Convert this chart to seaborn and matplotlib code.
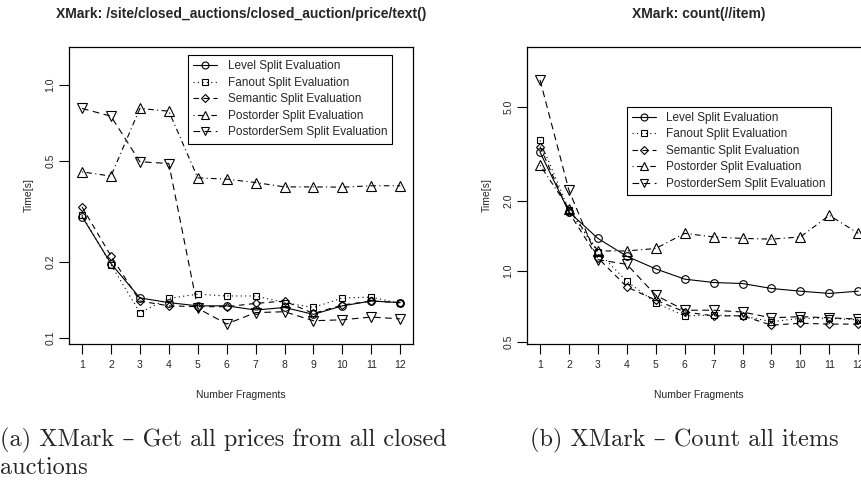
import numpy as np
import pandas as pd
import matplotlib
matplotlib.use("Agg")
import matplotlib.pyplot as plt
from matplotlib.lines import Line2D
import seaborn as sns

# ---------------- data ----------------
fragments = [1, 2, 3, 4, 5, 6, 7, 8, 9, 10, 11, 12]
series_names = ["Level Split Evaluation", "Fanout Split Evaluation",
                "Semantic Split Evaluation", "Postorder Split Evaluation",
                "PostorderSem Split Evaluation"]

# (a) /site/closed_auctions/closed_auction/price/text()
a_level = [0.302, 0.197, 0.144, 0.138, 0.134, 0.134, 0.129, 0.132, 0.124, 0.134, 0.140, 0.138]
a_fanout = [0.306, 0.195, 0.126, 0.1435, 0.149, 0.1466, 0.1466, 0.138, 0.132, 0.144, 0.145, 0.137]
a_semantic = [0.330, 0.211, 0.140, 0.134, 0.133, 0.133, 0.137, 0.140, 0.125, 0.135, 0.140, 0.138]
a_postorder = [0.454, 0.437, 0.809, 0.789, 0.430, 0.425, 0.412, 0.396, 0.396, 0.395, 0.400, 0.400]
a_postordersem = [0.809, 0.754, 0.498, 0.490, 0.131, 0.1136, 0.126, 0.127, 0.117, 0.118, 0.121, 0.119]

# (b) count(//item)
b_level = [3.22, 1.79, 1.38, 1.158, 1.023, 0.925, 0.895, 0.886, 0.844, 0.822, 0.804, 0.822]
b_fanout = [3.61, 1.82, 1.21, 0.906, 0.733, 0.645, 0.650, 0.645, 0.609, 0.630, 0.630, 0.620]
b_semantic = [3.40, 1.78, 1.14, 0.857, 0.753, 0.671, 0.645, 0.645, 0.589, 0.600, 0.595, 0.595]
b_postorder = [2.83, 1.85, 1.22, 1.22, 1.25, 1.45, 1.40, 1.38, 1.37, 1.40, 1.73, 1.45]
b_postordersem = [6.54, 2.21, 1.12, 1.07, 0.790, 0.682, 0.682, 0.670, 0.633, 0.640, 0.633, 0.625]

title_a = "XMark: /site/closed_auctions/closed_auction/price/text()"
title_b = "XMark: count(//item)"
yticks_a = [0.1, 0.2, 0.5, 1.0]
yticks_b = [0.5, 1.0, 2.0, 5.0]
caption_a1 = "(a) XMark \u2013 Get all prices from all closed"
caption_a2 = "auctions"
caption_b = "(b) XMark \u2013 Count all items"

# ---------------- style ----------------
sns.set_theme(style="white")
plt.rcParams["font.family"] = ["Liberation Sans", "DejaVu Sans"]

W, H = 861, 480
fig = plt.figure(figsize=(W / 100, H / 100), dpi=100)

def fx(px):
    return px / W

def fy(py):
    return 1 - py / H

ax_w = 343.7 / W
ax_h = (344.3 - 46.7) / H
ax1 = fig.add_axes([fx(69.3), fy(344.3), ax_w, ax_h])
ax2 = fig.add_axes([fx(527.3), fy(344.3), ax_w, ax_h])

lw = 0.8
styles = [
    dict(linestyle="-", marker="o", ms=5.5),
    dict(linestyle=(0, (1, 3)), marker="s", ms=5.0),
    dict(linestyle=(0, (5, 4)), marker="D", ms=4.5),
    dict(linestyle=(0, (1, 3, 5, 3)), marker="^", ms=6.5),
    dict(linestyle=(0, (6, 4)), marker="v", ms=6.5),
]

def draw(ax, values, ylim, yticks, title):
    for name, vals, st in zip(series_names, values, styles):
        df = pd.DataFrame({"x": fragments, "y": vals})
        sns.lineplot(data=df, x="x", y="y", ax=ax, color="black", lw=lw,
                     linestyle=st["linestyle"], marker=st["marker"],
                     markersize=st["ms"], markerfacecolor="none",
                     markeredgecolor="black", markeredgewidth=0.8,
                     legend=False, errorbar=None)
    ax.set_yscale("log")
    ax.set_xlim(0.56, 12.44)
    ax.set_ylim(*ylim)
    ax.set_xticks(fragments)
    ax.set_xticklabels([str(f) for f in fragments], fontsize=7.5)
    ax.set_yticks(yticks)
    ax.set_yticklabels([f"{t:.1f}" for t in yticks], fontsize=7.5,
                       rotation=90, va="center")
    ax.minorticks_off()
    ax.tick_params(axis="both", which="major", direction="out", length=7,
                   width=0.8, color="black", left=True, bottom=True, pad=4)
    ax.tick_params(axis="y", pad=3)
    for s in ax.spines.values():
        s.set_visible(True)
        s.set_color("black")
        s.set_linewidth(0.9)
    ax.set_xlabel("Number Fragments", fontsize=7.5, labelpad=15)
    ax.set_ylabel("Time[s]", fontsize=7.5, labelpad=8.5)
    ax.set_title(title, fontsize=10, fontweight="bold", pad=21)
    ax.set_facecolor("white")

draw(ax1, [a_level, a_fanout, a_semantic, a_postorder, a_postordersem],
     (0.0944, 1.42), yticks_a, title_a)
draw(ax2, [b_level, b_fanout, b_semantic, b_postorder, b_postordersem],
     (0.488, 9.06), yticks_b, title_b)

handles = [Line2D([0], [0], color="black", lw=lw, linestyle=st["linestyle"],
                  marker=st["marker"], markersize=st["ms"] - 0.5,
                  markerfacecolor="none", markeredgecolor="black",
                  markeredgewidth=0.8)
           for st in styles]

for ax, (lx, ly) in [(ax1, (188, 55)), (ax2, (626.7, 106.7))]:
    leg = ax.legend(handles, series_names, loc="upper left",
                    bbox_to_anchor=(fx(lx), fy(ly)),
                    bbox_transform=fig.transFigure, borderaxespad=0,
                    fontsize=8.5, frameon=True, fancybox=False,
                    edgecolor="black", framealpha=1, handlelength=2.0,
                    handletextpad=0.9, labelspacing=0.38, borderpad=0.45)
    leg.get_frame().set_linewidth(0.8)

cap_family = ["cmr10", "DejaVu Serif"]
fig.text(fx(0), fy(440), caption_a1, fontsize=17.5, family=cap_family,
         va="center", ha="left")
fig.text(fx(0), fy(468), caption_a2, fontsize=17.5, family=cap_family,
         va="center", ha="left")
fig.text(fx(530), fy(440), caption_b, fontsize=17.5, family=cap_family,
         va="center", ha="left")

fig.savefig("out.png", dpi=100, facecolor="white")
